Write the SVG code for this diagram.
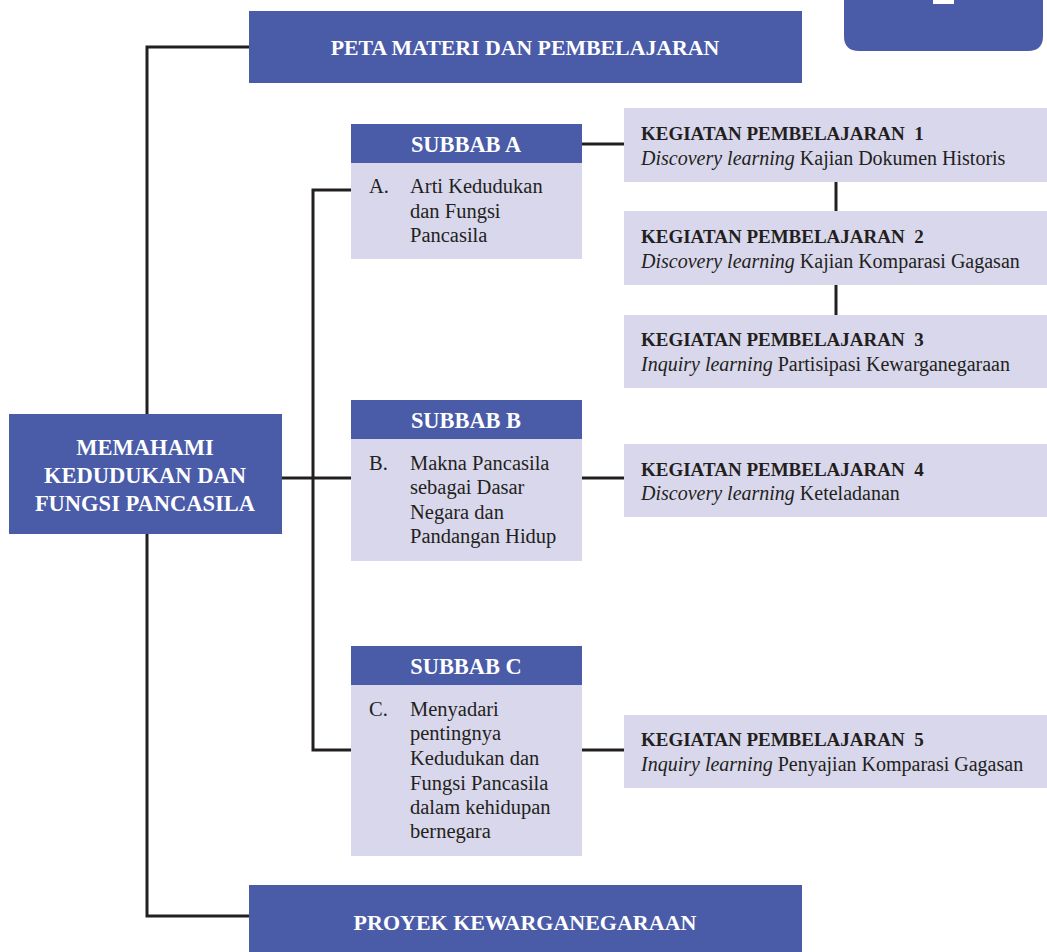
<svg xmlns="http://www.w3.org/2000/svg" width="1047" height="952" viewBox="0 0 1047 952">
<style>
.blue{fill:#4a5ba8}
.lav{fill:#d9d7ec}
.wt{fill:#ffffff;font-family:"Liberation Serif",serif;font-weight:bold;text-anchor:middle}
.t{fill:#231f20;font-family:"Liberation Serif",serif;font-size:20.5px}
.kb{fill:#231f20;font-family:"Liberation Serif",serif;font-size:19px;font-weight:bold}
.ki{fill:#231f20;font-family:"Liberation Serif",serif;font-size:20px}
.ln{fill:none;stroke:#231f20;stroke-width:3}
</style>
<rect width="1047" height="952" fill="#ffffff"/>
<g id="tab">
<path class="blue" d="M844,-10 H1043 V36 Q1043,51 1028,51 H859 Q844,51 844,36 Z"/>
<rect x="933" y="0" width="21" height="4" fill="#ffffff"/>
</g>
<g id="connectors">
<polyline class="ln" points="249,47 147,47 147,414"/>
<polyline class="ln" points="147,534 147,916 249,916"/>
<line class="ln" x1="282" y1="478" x2="351" y2="478"/>
<polyline class="ln" points="351,190 313,190 313,750 351,750"/>
<line class="ln" x1="582" y1="144" x2="624" y2="144"/>
<line class="ln" x1="836" y1="182" x2="836" y2="211"/>
<line class="ln" x1="836" y1="285" x2="836" y2="315"/>
<line class="ln" x1="582" y1="478" x2="624" y2="478"/>
<line class="ln" x1="582" y1="750" x2="624" y2="750"/>
</g>
<g id="peta">
<rect class="blue" x="249" y="11" width="553" height="72"/>
<text class="wt" x="525" y="55" font-size="21.8">PETA MATERI DAN PEMBELAJARAN</text>
</g>
<g id="main">
<rect class="blue" x="9" y="414" width="273" height="120"/>
<text class="wt" x="145" y="455" font-size="22.5">MEMAHAMI</text>
<text class="wt" x="145" y="483" font-size="22.5">KEDUDUKAN DAN</text>
<text class="wt" x="145" y="511" font-size="22.5">FUNGSI PANCASILA</text>
</g>
<g id="subbabA">
<rect class="lav" x="351" y="163" width="231" height="96"/>
<rect class="blue" x="351" y="124" width="231" height="39"/>
<text class="wt" x="466" y="152" font-size="22.4">SUBBAB A</text>
<text class="t" x="369" y="193">A.</text>
<text class="t" x="410" y="193">Arti Kedudukan</text>
<text class="t" x="410" y="218">dan Fungsi</text>
<text class="t" x="410" y="242">Pancasila</text>
</g>
<g id="subbabB">
<rect class="lav" x="351" y="439" width="231" height="122"/>
<rect class="blue" x="351" y="400" width="231" height="39"/>
<text class="wt" x="466" y="428" font-size="22.4">SUBBAB B</text>
<text class="t" x="369" y="470">B.</text>
<text class="t" x="410" y="470">Makna Pancasila</text>
<text class="t" x="410" y="494">sebagai Dasar</text>
<text class="t" x="410" y="519">Negara dan</text>
<text class="t" x="410" y="543">Pandangan Hidup</text>
</g>
<g id="subbabC">
<rect class="lav" x="351" y="685" width="231" height="171"/>
<rect class="blue" x="351" y="646" width="231" height="39"/>
<text class="wt" x="466" y="674" font-size="22.4">SUBBAB C</text>
<text class="t" x="369" y="716">C.</text>
<text class="t" x="410" y="716">Menyadari</text>
<text class="t" x="410" y="740">pentingnya</text>
<text class="t" x="410" y="765">Kedudukan dan</text>
<text class="t" x="410" y="790">Fungsi Pancasila</text>
<text class="t" x="410" y="814">dalam kehidupan</text>
<text class="t" x="410" y="838">bernegara</text>
</g>
<g id="kp1">
<rect class="lav" x="624" y="108" width="423" height="74"/>
<text class="kb" x="641" y="140" xml:space="preserve">KEGIATAN PEMBELAJARAN  1</text>
<text class="ki" x="641" y="165"><tspan font-style="italic">Discovery learning</tspan> Kajian Dokumen Historis</text>
</g>
<g id="kp2">
<rect class="lav" x="624" y="211" width="423" height="74"/>
<text class="kb" x="641" y="243" xml:space="preserve">KEGIATAN PEMBELAJARAN  2</text>
<text class="ki" x="641" y="268"><tspan font-style="italic">Discovery learning</tspan> Kajian Komparasi Gagasan</text>
</g>
<g id="kp3">
<rect class="lav" x="624" y="315" width="423" height="73"/>
<text class="kb" x="641" y="346" xml:space="preserve">KEGIATAN PEMBELAJARAN  3</text>
<text class="ki" x="641" y="371"><tspan font-style="italic">Inquiry learning</tspan> Partisipasi Kewarganegaraan</text>
</g>
<g id="kp4">
<rect class="lav" x="624" y="444" width="423" height="73"/>
<text class="kb" x="641" y="476" xml:space="preserve">KEGIATAN PEMBELAJARAN  4</text>
<text class="ki" x="641" y="500"><tspan font-style="italic">Discovery learning</tspan> Keteladanan</text>
</g>
<g id="kp5">
<rect class="lav" x="624" y="715" width="423" height="73"/>
<text class="kb" x="641" y="746" xml:space="preserve">KEGIATAN PEMBELAJARAN  5</text>
<text class="ki" x="641" y="771"><tspan font-style="italic">Inquiry learning</tspan> Penyajian Komparasi Gagasan</text>
</g>
<g id="proyek">
<rect class="blue" x="249" y="885" width="553" height="67"/>
<text class="wt" x="525" y="930" font-size="22">PROYEK KEWARGANEGARAAN</text>
</g>
</svg>
